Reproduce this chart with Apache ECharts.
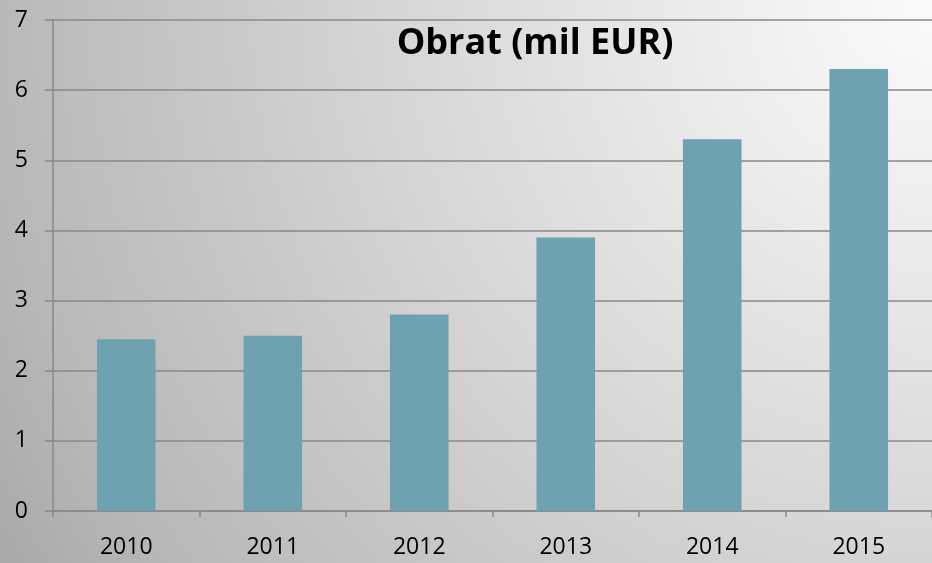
<!DOCTYPE html>
<html lang="sk">
<head>
    <meta charset="UTF-8">
    <title>Obrat</title>
    <style>
        html, body { margin: 0; padding: 0; }
        #chart1 {
            width: 932px; height: 563px;
            background: radial-gradient(circle 1100px at 100% 0%, #fbfbfb 0px, #eeeeee 200px, #d6d6d6 540px, #c8c8c8 720px, #b8b8b8 940px, #a8a8a8 1095px);
        }
    </style>
</head>
<body>
<div id="chart1"></div>

<script type="text/javascript" src="https://cdn.jsdelivr.net/npm/echarts@6/dist/echarts.min.js"></script>
<script type="text/javascript">
    var years = ['2010', '2011', '2012', '2013', '2014', '2015'];
    var obrat = [2.45, 2.5, 2.8, 3.9, 5.3, 6.3];
    var yTicks = { min: 0, max: 7, step: 1 };

    var myChart1 = echarts.init(document.getElementById('chart1'));
    myChart1.setOption({
        backgroundColor: 'transparent',
        title: {
            text: 'Obrat (mil EUR)',
            left: 530,
            textAlign: 'center',
            top: 21,
            textStyle: {
                fontFamily: 'Open Sans',
                fontWeight: 'bold',
                fontSize: 36,
                color: '#000'
            }
        },
        grid: { left: 53, right: 0, top: 20, bottom: 52 },
        xAxis: {
            type: 'category',
            data: years,
            axisLine: { lineStyle: { color: '#888', width: 1.5 } },
            axisTick: { show: true, length: 6, lineStyle: { color: '#888', width: 1.5 } },
            axisLabel: { fontFamily: 'Open Sans', fontSize: 23, color: '#000', margin: 25 }
        },
        yAxis: {
            type: 'value',
            min: yTicks.min,
            max: yTicks.max,
            interval: yTicks.step,
            axisLine: { show: true, lineStyle: { color: '#888', width: 1.5 } },
            axisTick: { show: true, length: 8, lineStyle: { color: '#888', width: 1.5 } },
            axisLabel: { fontFamily: 'Open Sans', fontSize: 23, color: '#000', margin: 25 },
            splitLine: { lineStyle: { color: '#888', width: 1.5 } }
        },
        series: [{
            type: 'bar',
            data: obrat,
            barWidth: '40%',
            itemStyle: { color: '#6fa2b1' }
        }]
    });
</script>
</body>
</html>
